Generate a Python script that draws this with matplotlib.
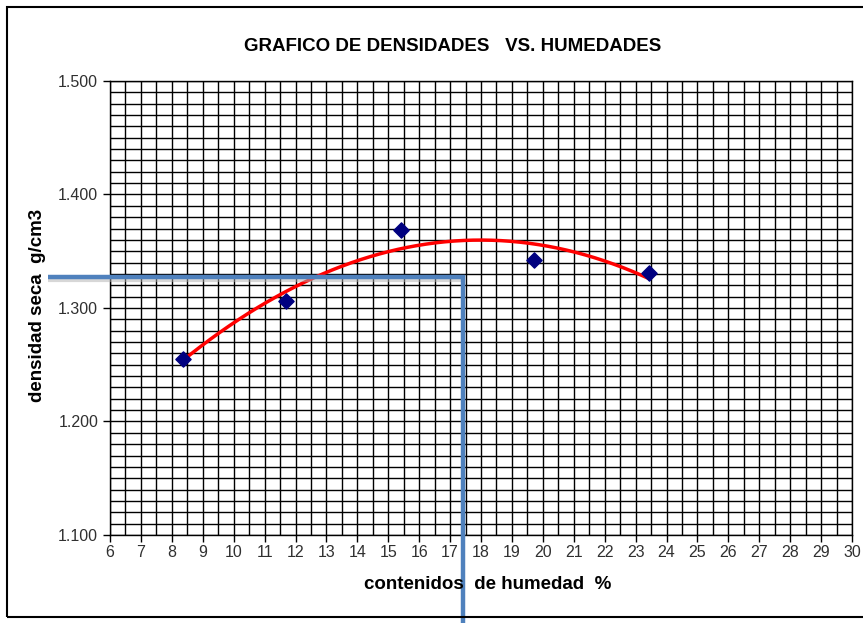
import numpy as np
import matplotlib.pyplot as plt
from matplotlib.patches import Rectangle
from matplotlib.ticker import MultipleLocator, FormatStrFormatter

plt.rcParams["font.family"] = ["Liberation Sans", "DejaVu Sans"]

# measured points: moisture content (%) vs dry density (g/cm3)
humedad = [8.35, 11.70, 15.40, 19.70, 23.42]
densidad = [1.255, 1.306, 1.369, 1.342, 1.331]

# optimum (blue guide lines)
hum_opt = 17.43
dens_opt = 1.327
guia_x = [4.0, hum_opt, hum_opt]
guia_y = [dens_opt, dens_opt, 1.022]

fig = plt.figure(figsize=(8.63, 6.23), dpi=100)
ax = fig.add_axes([0.1275, 0.1413, 0.8598, 0.7287])

# outer frame of the chart
fig.patches.append(Rectangle((7 / 863, 6 / 623), 1.0, 610 / 623, transform=fig.transFigure,
                             fill=False, edgecolor="black", linewidth=1.5))

# order 2 trendline
coef = np.polyfit(humedad, densidad, 2)
xs = np.linspace(min(humedad), max(humedad), 200)
ax.plot(xs, np.polyval(coef, xs), color="#ff0000", linewidth=2.5, zorder=3)

ax.scatter(humedad, densidad, marker="D", s=60, color="#000080", zorder=4)

# guide lines to the optimum
ax.plot(guia_x[:2], [guia_y[0] - 0.0025] * 2, color="#b0b0b0", linewidth=3, alpha=0.5,
        clip_on=False, zorder=4, solid_capstyle="butt")
ax.plot(guia_x, guia_y, color="#4f81bd", linewidth=3.2, clip_on=False, zorder=5,
        solid_joinstyle="miter", solid_capstyle="butt")

ax.set_xlim(6, 30)
ax.set_ylim(1.1, 1.5)
ax.xaxis.set_major_locator(MultipleLocator(1))
ax.xaxis.set_minor_locator(MultipleLocator(0.5))
ax.yaxis.set_major_locator(MultipleLocator(0.1))
ax.yaxis.set_minor_locator(MultipleLocator(0.01))
ax.yaxis.set_major_formatter(FormatStrFormatter("%.3f"))
ax.grid(True, which="both", color="black", linewidth=1.0)
ax.set_axisbelow(True)
ax.tick_params(which="major", direction="out", length=5, width=1, labelsize=11.5,
               labelcolor="#303030")
ax.tick_params(which="minor", length=0)
ax.tick_params(axis="x", pad=2)
for s in ax.spines.values():
    s.set_linewidth(1)

fig.text(0.524, 0.926, "GRAFICO DE DENSIDADES   VS. HUMEDADES", ha="center", va="center",
         fontsize=13.5, fontweight="bold")
fig.text(0.565, 0.061, "contenidos  de humedad  %", ha="center", va="center",
         fontsize=13.5, fontweight="bold")
fig.text(0.043, 0.51, "densidad seca  g/cm3", ha="center", va="center", rotation=90,
         fontsize=13.5, fontweight="bold")

fig.savefig("out.png", dpi=100)
